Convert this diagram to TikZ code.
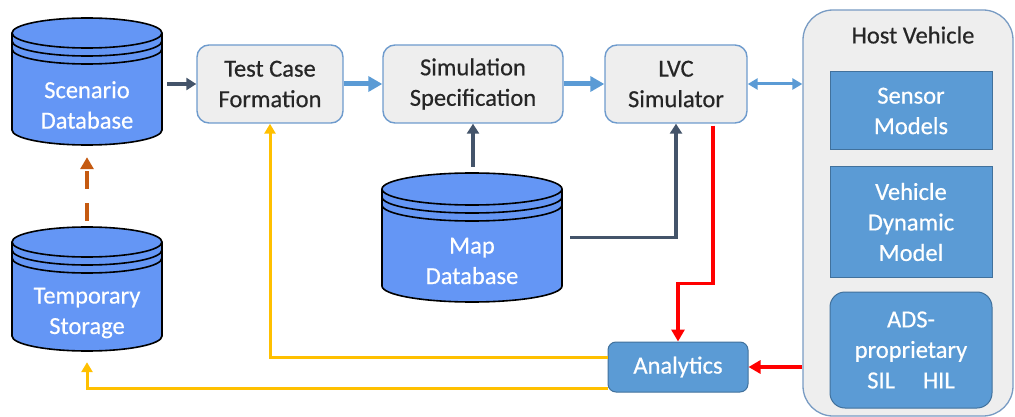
\documentclass[tikz,border=0pt]{standalone}
\usepackage{fontspec}
\setmainfont{Carlito}
\newfontfamily\labelfont{Carlito}[FakeBold=0.5]
\usetikzlibrary{arrows.meta,calc}

\definecolor{drumblue}{RGB}{100,150,245}
\definecolor{boxgray}{RGB}{238,238,238}
\definecolor{boxline}{RGB}{110,155,205}
\definecolor{midblue}{RGB}{91,155,213}
\definecolor{midblueline}{RGB}{65,113,156}
\definecolor{slate}{RGB}{68,84,106}
\definecolor{amber}{RGB}{255,192,0}
\definecolor{rust}{RGB}{197,90,17}
\definecolor{hostline}{RGB}{120,155,195}
\definecolor{inktext}{RGB}{38,38,38}

\tikzset{
  labeltext/.style={font=\labelfont\fontsize{24.5}{30.5}\selectfont, align=center},
  procbox/.style={labeltext, draw=boxline, line width=1.4pt, fill=boxgray,
    rounded corners=12pt, text=inktext, inner sep=0pt},
  subbox/.style={labeltext, draw=midblueline, line width=1pt, fill=midblue,
    text=white, inner sep=0pt},
  drumtext/.style={labeltext, text=white, inner sep=0pt},
  drumarea/.style={draw=none, inner sep=0pt},
  drumskin/.style={fill=drumblue, draw=black, line width=1.6pt},
  slatearrow/.style={draw=slate, line width=3.8pt,
    -{Triangle[length=10pt,width=12pt]}},
  flowarrow/.style={draw=midblue, line width=5pt,
    -{Triangle[length=14pt,width=15pt]}},
  linkarrow/.style={draw=midblue, line width=3pt,
    {Triangle[length=10pt,width=11pt]}-{Triangle[length=10pt,width=11pt]}},
  redarrow/.style={draw=red, line width=3.4pt, line join=miter,
    -{Triangle[length=12pt,width=13pt]}},
  amberarrow/.style={draw=amber, line width=3pt,
    -{Triangle[length=10pt,width=11pt]}},
  rustarrow/.style={draw=rust, line width=4pt, dash pattern=on 18pt off 14pt,
    -{Triangle[length=12pt,width=13pt]}},
}

% database drum: name, cx, top-face centre y, base centre y, x radius, y radius, text, text y
\newcommand{\dbdrum}[8]{%
  \draw[drumskin] (#2-#5,#3) -- (#2-#5,#4)
    arc[start angle=180, end angle=360, x radius=#5pt, y radius=#6pt]
    -- (#2+#5,#3)
    arc[start angle=0, end angle=180, x radius=#5pt, y radius=#6pt] -- cycle;
  \draw[black, line width=1.6pt] (#2-#5,#3)
    arc[start angle=180, end angle=360, x radius=#5pt, y radius=#6pt];
  \draw[black, line width=1.6pt] (#2-#5,#3+8)
    arc[start angle=180, end angle=360, x radius=#5pt, y radius=#6pt];
  \draw[black, line width=1.6pt] (#2-#5,#3+16)
    arc[start angle=180, end angle=360, x radius=#5pt, y radius=#6pt];
  \node[drumarea, minimum width={2*#5 pt}, minimum height={(#4-#3+2*#6)*1pt}]
    (#1) at (#2,{(#3+#4)/2}) {};
  \node[drumtext] (#1-text) at (#2,#8) {#7};
}

\begin{document}
\begin{tikzpicture}[x=1pt, y=-1pt]
\useasboundingbox (0,0) rectangle (1015,417);

% storage drums
\dbdrum{scen}{87}{33}{130}{75}{15}{Scenario\\Database}{105}
\dbdrum{temp}{87}{242}{336}{75}{15}{Temporary\\Storage}{313}
\dbdrum{map}{472}{189}{286}{90}{16}{Map\\Database}{261}

% processing chain
\node[procbox, minimum width=146pt, minimum height=78pt] (tcf) at (270,84)
  {Test Case\\Formation};
\node[procbox, minimum width=180pt, minimum height=78pt] (sim) at (473,84)
  {Simulation\\Specification};
\node[procbox, minimum width=142pt, minimum height=78pt] (lvc) at (676,84)
  {LVC\\Simulator};
\node[subbox, rounded corners=8pt, minimum width=140pt, minimum height=50pt]
  (ana) at (678,367) {Analytics};

% host vehicle container
\node[draw=hostline, line width=1.3pt, fill=boxgray, rounded corners=30pt,
  minimum width=210pt, minimum height=406pt, inner sep=0pt] (host) at (908,213) {};
\node[labeltext, text=inktext] (hosttitle) at (913,35) {Host Vehicle};
\node[subbox, minimum width=162pt, minimum height=78pt] (sens) at (911,111)
  {Sensor\\Models};
\node[subbox, minimum width=162pt, minimum height=110pt] (vdm) at (911,222)
  {Vehicle\\Dynamic\\Model};
\node[subbox, rounded corners=15pt, minimum width=162pt, minimum height=116pt]
  (ads) at (911,350) {ADS-\\proprietary\\SIL\hspace{28pt}HIL};

% data flow
\draw[slatearrow] ([xshift=5pt]scen.east |- tcf.west) -- (tcf.west);
\draw[flowarrow] (tcf.east) -- (sim.west);
\draw[flowarrow] (sim.east) -- (lvc.west);
\draw[linkarrow] (lvc.east) -- (lvc.east -| host.west);
\draw[slatearrow] ($(sim.south |- map.north)+(0,-6)$) -- (sim.south);
\draw[slatearrow] ($(map.east)+(8,0)$) -| (lvc.south);

% result flow
\draw[redarrow] ($(lvc.south)+(37,2)$) -- ++(0,158) -| (ana.north);
\draw[redarrow] (host.west |- ana.east) -- (ana.east);
\draw[amberarrow] ($(ana.west)+(0,-10)$) -| (tcf.south);
\draw[amberarrow] ($(ana.west)+(0,21)$) -| ($(temp.south)+(0,11)$);
\draw[rustarrow] ($(temp.north)+(0,-6)$) -- ($(scen.south)+(0,12)$);
\end{tikzpicture}
\end{document}
